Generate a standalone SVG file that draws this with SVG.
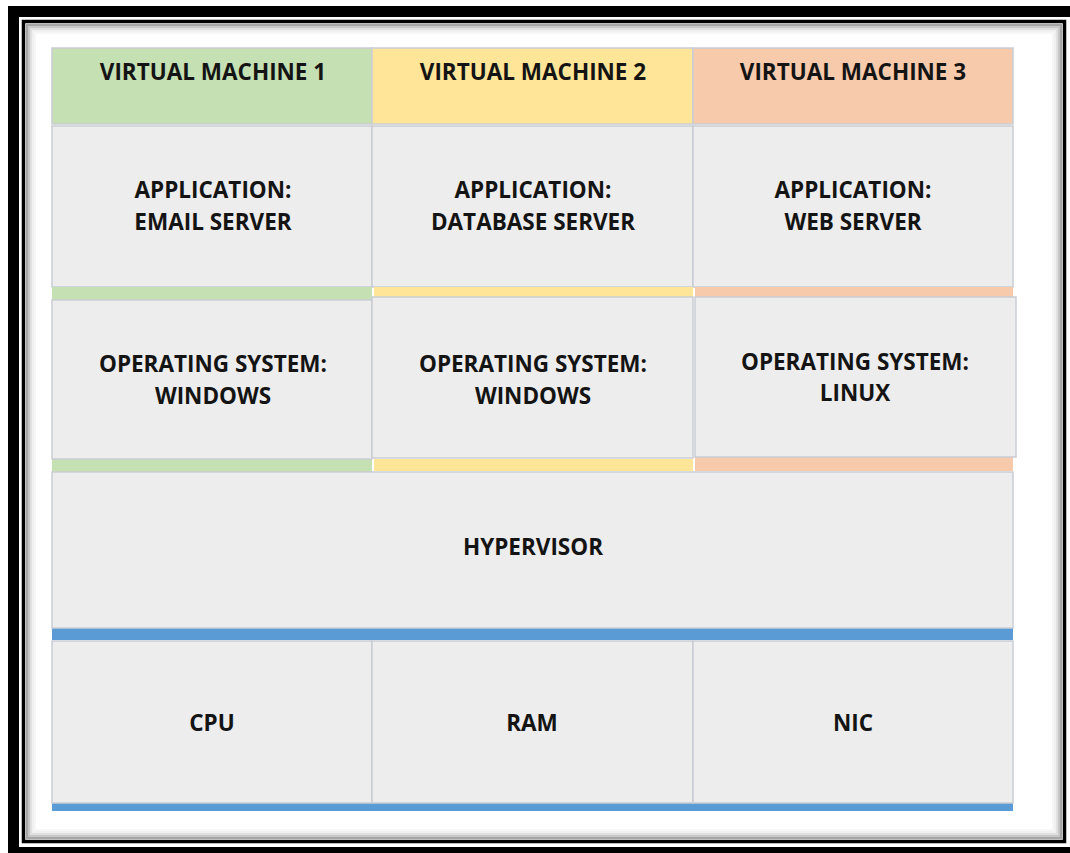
<svg xmlns="http://www.w3.org/2000/svg" width="1070" height="853" viewBox="0 0 1070 853">
<style>
.cell{fill:#EDEDED;stroke:#C9CDD3;stroke-width:1.5}
.g{fill:#C5E0B3}
.y{fill:#FFE598}
.o{fill:#F7CAAC}
.b{fill:#5B9BD5}
.hdr{stroke:#C9CDD3;stroke-width:1.5}
text{font-family:"Open Sans","Liberation Sans",sans-serif;font-weight:bold;font-size:22.5px;fill:#141414;text-anchor:middle}
.sh{fill:none;stroke:#000}
</style>
<rect width="1070" height="853" fill="#fff"/>
<g id="frame">
<rect x="8" y="6" width="1062" height="11" fill="#000"/>
<rect x="8" y="6" width="11" height="847" fill="#000"/>
<rect x="8" y="847" width="1062" height="6" fill="#000"/>
<rect x="23.5" y="21.5" width="1041" height="820" fill="none" stroke="#000" stroke-width="3.5"/>
<rect x="27" y="25" width="1034" height="813" class="sh" stroke-opacity="0.35" stroke-width="2"/>
<rect x="29" y="27" width="1030" height="809" class="sh" stroke-opacity="0.22" stroke-width="2"/>
<rect x="31" y="29" width="1026" height="805" class="sh" stroke-opacity="0.12" stroke-width="2"/>
<rect x="33" y="31" width="1022" height="801" class="sh" stroke-opacity="0.06" stroke-width="2"/>
<rect x="35" y="33" width="1018" height="797" class="sh" stroke-opacity="0.03" stroke-width="2"/>
</g>
<g id="vm1-header"><rect x="52" y="48" width="320" height="76" class="g hdr"/><text x="213" y="80">VIRTUAL MACHINE 1</text></g>
<g id="vm2-header"><rect x="372" y="48" width="321" height="76" class="y hdr"/><text x="533" y="80">VIRTUAL MACHINE 2</text></g>
<g id="vm3-header"><rect x="693" y="48" width="320" height="76" class="o hdr"/><text x="853" y="80">VIRTUAL MACHINE 3</text></g>
<g id="app1"><rect x="52" y="126" width="320" height="161" class="cell"/><text x="213" y="198">APPLICATION:</text><text x="213" y="230">EMAIL SERVER</text></g>
<g id="app2"><rect x="372" y="126" width="321" height="161" class="cell"/><text x="533" y="198">APPLICATION:</text><text x="533" y="230">DATABASE SERVER</text></g>
<g id="app3"><rect x="693" y="126" width="320" height="161" class="cell"/><text x="853" y="198">APPLICATION:</text><text x="853" y="230">WEB SERVER</text></g>
<g id="strips">
<rect x="52" y="287" width="320" height="13" class="g"/>
<rect x="374" y="287" width="319" height="10" class="y"/>
<rect x="695" y="287" width="318" height="10" class="o"/>
<rect x="52" y="459" width="320" height="13" class="g"/>
<rect x="374" y="459" width="319" height="12" class="y"/>
<rect x="695" y="457" width="318" height="14" class="o"/>
<rect x="52" y="628" width="961" height="12" class="b"/>
<rect x="52" y="803" width="961" height="8" class="b"/>
</g>
<g id="os1"><rect x="52" y="300" width="320" height="159" class="cell"/><text x="213" y="372">OPERATING SYSTEM:</text><text x="213" y="404">WINDOWS</text></g>
<g id="os2"><rect x="372" y="297" width="321" height="161" class="cell"/><text x="533" y="372">OPERATING SYSTEM:</text><text x="533" y="404">WINDOWS</text></g>
<g id="os3"><rect x="695" y="297" width="321" height="160" class="cell"/><text x="855" y="370">OPERATING SYSTEM:</text><text x="855" y="401">LINUX</text></g>
<g id="hypervisor"><rect x="52" y="472" width="961" height="156" class="cell"/><text x="533" y="555">HYPERVISOR</text></g>
<g id="cpu"><rect x="52" y="641" width="320" height="162" class="cell"/><text x="212" y="731">CPU</text></g>
<g id="ram"><rect x="372" y="641" width="321" height="162" class="cell"/><text x="532" y="731">RAM</text></g>
<g id="nic"><rect x="693" y="641" width="320" height="162" class="cell"/><text x="853" y="731">NIC</text></g>
<g id="connectors"/>
</svg>
